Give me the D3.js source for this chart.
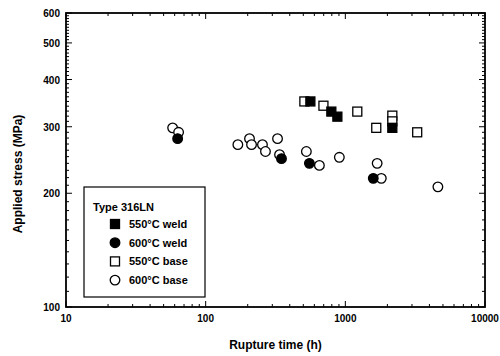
<!DOCTYPE html>
<html>
<head>
<meta charset="utf-8">
<script src="https://cdn.jsdelivr.net/npm/d3@7"></script>
<style>
  body { margin: 0; background: #fff; }
  text { font-family: "Liberation Sans", Arial, sans-serif; font-weight: bold; fill: #000; }
</style>
</head>
<body>
<div id="chart"></div>
<script>
const width = 500
const height = 356
const margin = { top: 13, right: 15, bottom: 49, left: 66 }

// rupture time (h), applied stress (MPa)
const weld550Time = [562, 794, 877, 2170]
const weld550Stress = [350, 329, 319, 298]
const weld600Time = [63, 349, 553, 1585]
const weld600Stress = [279, 247, 240, 219]
const base550Time = [509, 697, 1218, 1665, 2170, 2170, 3270]
const base550Stress = [350, 341, 329, 298, 321, 310, 290]
const base600Time = [58, 64, 170, 206, 213, 255, 268, 327, 338, 526, 652, 906, 1690, 1810, 4600]
const base600Stress = [298, 290, 269, 279, 269, 269, 258, 279, 253, 258, 237, 249, 240, 219, 208]

const xTicks = [10, 100, 1000, 10000]
const yTicks = [100, 200, 300, 400, 500, 600]

const series = [
  { label: "550°C weld", shape: "square", filled: true, time: weld550Time, stress: weld550Stress },
  { label: "600°C weld", shape: "circle", filled: true, time: weld600Time, stress: weld600Stress },
  { label: "550°C base", shape: "square", filled: false, time: base550Time, stress: base550Stress },
  { label: "600°C base", shape: "circle", filled: false, time: base600Time, stress: base600Stress }
]

const x = d3.scaleLog().domain([10, 10000]).range([margin.left, width - margin.right])
const y = d3.scaleLog().domain([100, 600]).range([height - margin.bottom, margin.top])

const svg = d3.select("#chart")
  .append("svg")
  .attr("width", width)
  .attr("height", height)

const x0 = x.range()[0], x1 = x.range()[1]
const y0 = y.range()[0], y1 = y.range()[1]

// minor ticks
const xMinor = d3.range(1, 4).flatMap(e => d3.range(2, 10).map(k => k * Math.pow(10, e)))
const yMinor = d3.range(110, 600, 10).filter(v => v % 100 !== 0)

const ticks = svg.append("g").attr("stroke", "#000").attr("stroke-width", 1)

xMinor.forEach(v => {
  ticks.append("line").attr("x1", x(v)).attr("x2", x(v)).attr("y1", y0).attr("y2", y0 - 3)
  ticks.append("line").attr("x1", x(v)).attr("x2", x(v)).attr("y1", y1).attr("y2", y1 + 3)
})
xTicks.forEach(v => {
  ticks.append("line").attr("x1", x(v)).attr("x2", x(v)).attr("y1", y0).attr("y2", y0 - 6)
  ticks.append("line").attr("x1", x(v)).attr("x2", x(v)).attr("y1", y1).attr("y2", y1 + 6)
})
yMinor.forEach(v => {
  ticks.append("line").attr("x1", x0).attr("x2", x0 + 3).attr("y1", y(v)).attr("y2", y(v))
  ticks.append("line").attr("x1", x1).attr("x2", x1 - 3).attr("y1", y(v)).attr("y2", y(v))
})
yTicks.forEach(v => {
  ticks.append("line").attr("x1", x0).attr("x2", x0 + 6).attr("y1", y(v)).attr("y2", y(v))
  ticks.append("line").attr("x1", x1).attr("x2", x1 - 6).attr("y1", y(v)).attr("y2", y(v))
})

// frame
svg.append("rect")
  .attr("x", x0).attr("y", y1)
  .attr("width", x1 - x0).attr("height", y0 - y1)
  .attr("fill", "none").attr("stroke", "#000").attr("stroke-width", 1.8)

// tick labels
svg.append("g").selectAll("text")
  .data(xTicks)
  .join("text")
  .attr("x", d => x(d))
  .attr("y", y0 + 15)
  .attr("text-anchor", "middle")
  .attr("font-size", 10)
  .text(d => d)

svg.append("g").selectAll("text")
  .data(yTicks)
  .join("text")
  .attr("x", x0 - 6)
  .attr("y", d => y(d) + 4)
  .attr("text-anchor", "end")
  .attr("font-size", 10)
  .text(d => d)

// axis titles
svg.append("text")
  .attr("x", (x0 + x1) / 2)
  .attr("y", 349)
  .attr("text-anchor", "middle")
  .attr("font-size", 12)
  .text("Rupture time (h)")

svg.append("text")
  .attr("transform", `translate(22,${(y0 + y1) / 2 + 14}) rotate(-90)`)
  .attr("text-anchor", "middle")
  .attr("font-size", 12)
  .text("Applied stress (MPa)")

function drawMarker(g, shape, filled, cx, cy) {
  if (shape === "square") {
    g.append("rect")
      .attr("x", cx - 4.5).attr("y", cy - 4.5)
      .attr("width", 9).attr("height", 9)
      .attr("fill", filled ? "#000" : "#fff")
      .attr("stroke", "#000").attr("stroke-width", 1.3)
  } else {
    g.append("circle")
      .attr("cx", cx).attr("cy", cy).attr("r", 4.8)
      .attr("fill", filled ? "#000" : "#fff")
      .attr("stroke", "#000").attr("stroke-width", 1.3)
  }
}

// points: bases first, welds on top
const plot = svg.append("g")
const order = [3, 2, 1, 0]
order.forEach(i => {
  const s = series[i]
  s.time.forEach((t, j) => drawMarker(plot, s.shape, s.filled, x(t), y(s.stress[j])))
})

// legend
const legend = svg.append("g")
legend.append("rect")
  .attr("x", 84).attr("y", 187)
  .attr("width", 121).attr("height", 110)
  .attr("fill", "#fff").attr("stroke", "#000").attr("stroke-width", 1.2)
legend.append("text")
  .attr("x", 93).attr("y", 211)
  .attr("font-size", 11)
  .text("Type 316LN")
series.forEach((s, i) => {
  const cy = 224 + i * 18.7
  drawMarker(legend, s.shape, s.filled, 115, cy)
  legend.append("text")
    .attr("x", 129).attr("y", cy + 4)
    .attr("font-size", 11)
    .text(s.label)
})
</script>
</body>
</html>
